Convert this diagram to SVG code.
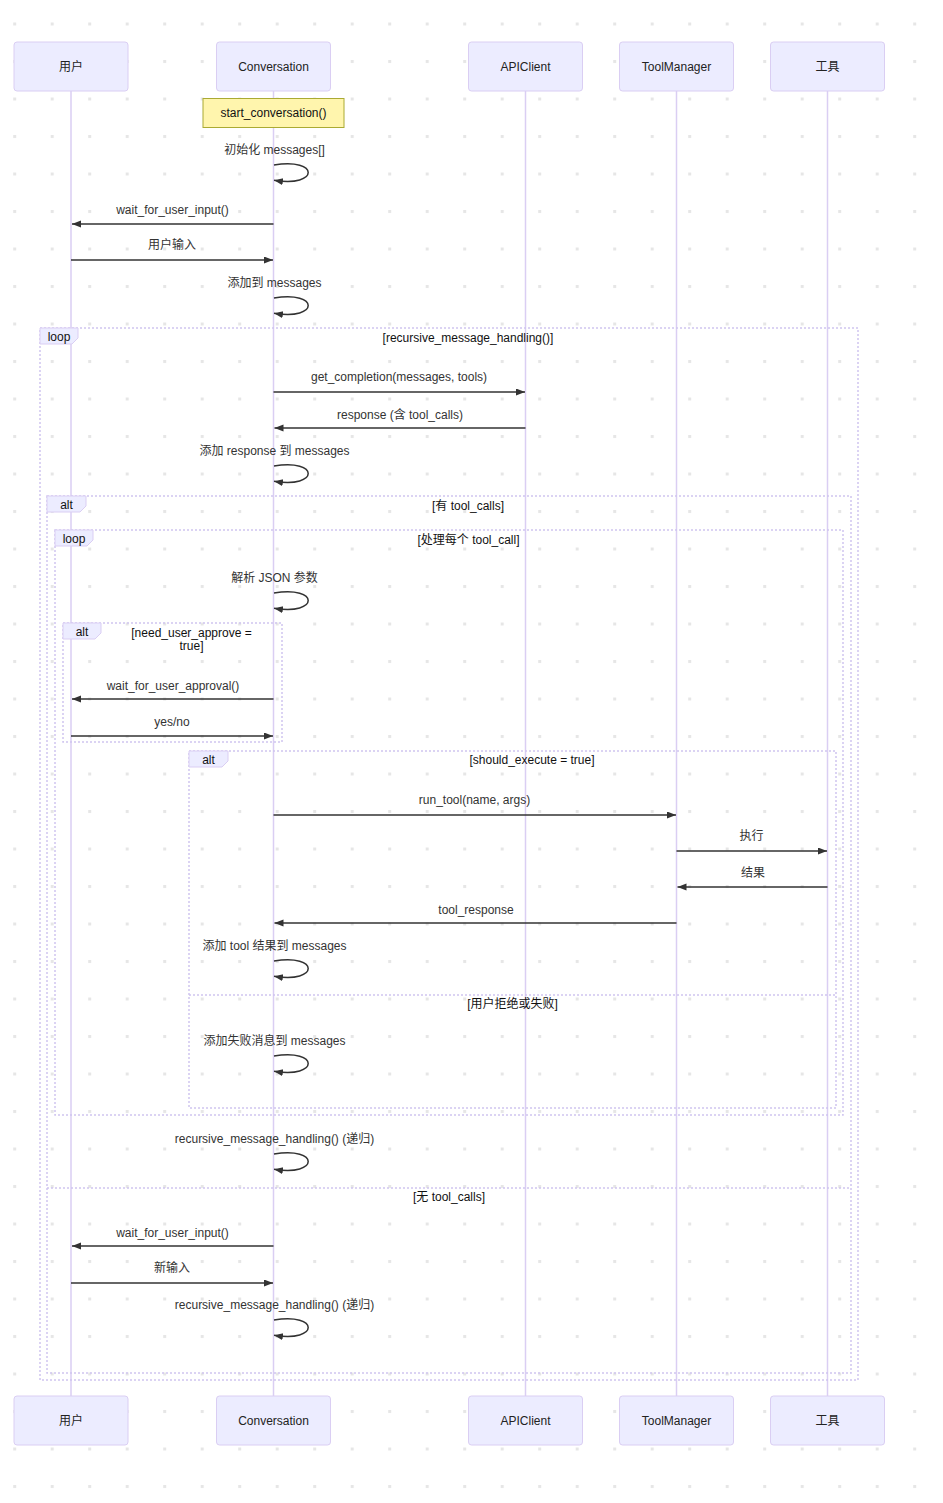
<svg xmlns="http://www.w3.org/2000/svg" width="943" height="1503" viewBox="0 0 943 1503">
<style>
.actor{fill:#ECECFF;stroke:#DACEF3;stroke-width:1}
.atext{font-family:"Liberation Sans","Noto Sans CJK SC",sans-serif;font-size:12px;fill:#222;text-anchor:middle;dominant-baseline:central}
.life{stroke:#DACEF3;stroke-width:1.5}
.msg{stroke:#333;stroke-width:1.5;fill:none}
.mtext{font-family:"Liberation Sans","Noto Sans CJK SC",sans-serif;font-size:12px;fill:#333;text-anchor:middle;dominant-baseline:central}
.frame{fill:none;stroke:#CFC5F0;stroke-width:1.5;stroke-dasharray:2,2}
.lbox{fill:#ECECFF;stroke:#DACEF3;stroke-width:1}
.ltext{font-family:"Liberation Sans","Noto Sans CJK SC",sans-serif;font-size:12px;fill:#111;text-anchor:middle;dominant-baseline:central}
</style>
<defs>
<pattern id="dots" x="13.2" y="22.5" width="37.5" height="37.5" patternUnits="userSpaceOnUse">
<rect x="0" y="0" width="3" height="3" fill="#e6e6e6"/>
</pattern>
<marker id="arr" markerUnits="userSpaceOnUse" markerWidth="10" markerHeight="8" refX="9" refY="3.5" orient="auto">
<path d="M0,0 L9,3.5 L0,7 z" fill="#333"/>
</marker>
</defs>
<rect x="0" y="0" width="943" height="1503" fill="#fff"/>
<rect x="0" y="0" width="943" height="1503" fill="url(#dots)"/>

<g id="lifelines">
<line class="life" x1="71" y1="91" x2="71" y2="1396"/>
<line class="life" x1="273.5" y1="91" x2="273.5" y2="1396"/>
<line class="life" x1="525.5" y1="91" x2="525.5" y2="1396"/>
<line class="life" x1="676.5" y1="91" x2="676.5" y2="1396"/>
<line class="life" x1="827.5" y1="91" x2="827.5" y2="1396"/>
</g>

<g id="actor-user">
<rect class="actor" x="14" y="42" width="114" height="49" rx="3"/>
<text class="atext" x="71" y="66.5">用户</text>
<rect class="actor" x="14" y="1396" width="114" height="49" rx="3"/>
<text class="atext" x="71" y="1420.5">用户</text>
</g>
<g id="actor-conversation">
<rect class="actor" x="216.5" y="42" width="114" height="49" rx="3"/>
<text class="atext" x="273.5" y="66.5">Conversation</text>
<rect class="actor" x="216.5" y="1396" width="114" height="49" rx="3"/>
<text class="atext" x="273.5" y="1420.5">Conversation</text>
</g>
<g id="actor-apiclient">
<rect class="actor" x="468.5" y="42" width="114" height="49" rx="3"/>
<text class="atext" x="525.5" y="66.5">APIClient</text>
<rect class="actor" x="468.5" y="1396" width="114" height="49" rx="3"/>
<text class="atext" x="525.5" y="1420.5">APIClient</text>
</g>
<g id="actor-toolmanager">
<rect class="actor" x="619.5" y="42" width="114" height="49" rx="3"/>
<text class="atext" x="676.5" y="66.5">ToolManager</text>
<rect class="actor" x="619.5" y="1396" width="114" height="49" rx="3"/>
<text class="atext" x="676.5" y="1420.5">ToolManager</text>
</g>
<g id="actor-tool">
<rect class="actor" x="770.5" y="42" width="114" height="49" rx="3"/>
<text class="atext" x="827.5" y="66.5">工具</text>
<rect class="actor" x="770.5" y="1396" width="114" height="49" rx="3"/>
<text class="atext" x="827.5" y="1420.5">工具</text>
</g>

<g id="note-start">
<rect x="203" y="98.5" width="141" height="29" fill="#fff5ad" stroke="#aaaa33" stroke-width="1"/>
<text class="atext" x="273.5" y="113" style="fill:#111">start_conversation()</text>
</g>

<g id="frames">
<rect class="frame" x="40" y="328" width="818" height="1052"/>
<polygon class="lbox" points="40,328 78,328 78,338 72,344 40,344"/>
<text class="ltext" x="59" y="336.5">loop</text>
<text class="ltext" x="468" y="338">[recursive_message_handling()]</text>

<rect class="frame" x="47" y="496" width="804" height="877"/>
<polygon class="lbox" points="47,496 86,496 86,506 80,512 47,512"/>
<text class="ltext" x="66.5" y="504.5">alt</text>
<text class="ltext" x="468" y="506">[有 tool_calls]</text>
<line class="frame" x1="47" y1="1188" x2="851" y2="1188"/>
<text class="ltext" x="449" y="1197">[无 tool_calls]</text>

<rect class="frame" x="55" y="530" width="788" height="585"/>
<polygon class="lbox" points="55,530 93,530 93,540 87,546 55,546"/>
<text class="ltext" x="74" y="538.5">loop</text>
<text class="ltext" x="468.5" y="540">[处理每个 tool_call]</text>

<rect class="frame" x="63" y="623" width="219" height="119"/>
<polygon class="lbox" points="63,623 101,623 101,633 95,639 63,639"/>
<text class="ltext" x="82" y="631.5">alt</text>
<text class="ltext" x="191.5" y="633">[need_user_approve =</text>
<text class="ltext" x="191.5" y="646">true]</text>

<rect class="frame" x="189" y="751" width="647" height="357"/>
<polygon class="lbox" points="189,751 228,751 228,761 222,767 189,767"/>
<text class="ltext" x="208.5" y="759.5">alt</text>
<text class="ltext" x="532" y="760">[should_execute = true]</text>
<line class="frame" x1="189" y1="995" x2="836" y2="995"/>
<text class="ltext" x="512.5" y="1004">[用户拒绝或失败]</text>
</g>

<g id="connectors">
<text class="mtext" x="274.5" y="150">初始化 messages[]</text>
<path class="msg" d="M274,165 C319.6,157.4 319.6,187.8 274,180.2" marker-end="url(#arr)"/>

<text class="mtext" x="172.5" y="210">wait_for_user_input()</text>
<line class="msg" x1="273.5" y1="224" x2="72" y2="224" marker-end="url(#arr)"/>

<text class="mtext" x="172" y="245">用户输入</text>
<line class="msg" x1="71" y1="260" x2="273" y2="260" marker-end="url(#arr)"/>

<text class="mtext" x="274.5" y="283">添加到 messages</text>
<path class="msg" d="M274,298 C319.6,290.4 319.6,320.8 274,313.2" marker-end="url(#arr)"/>

<text class="mtext" x="399" y="377">get_completion(messages, tools)</text>
<line class="msg" x1="273.5" y1="392" x2="525" y2="392" marker-end="url(#arr)"/>

<text class="mtext" x="400" y="415">response (含 tool_calls)</text>
<line class="msg" x1="525.5" y1="428" x2="274.5" y2="428" marker-end="url(#arr)"/>

<text class="mtext" x="274.5" y="451">添加 response 到 messages</text>
<path class="msg" d="M274,466 C319.6,458.4 319.6,488.8 274,481.2" marker-end="url(#arr)"/>

<text class="mtext" x="274.5" y="578">解析 JSON 参数</text>
<path class="msg" d="M274,593 C319.6,585.4 319.6,615.8 274,608.2" marker-end="url(#arr)"/>

<text class="mtext" x="173" y="686">wait_for_user_approval()</text>
<line class="msg" x1="273.5" y1="699" x2="72" y2="699" marker-end="url(#arr)"/>

<text class="mtext" x="172" y="722">yes/no</text>
<line class="msg" x1="71" y1="736" x2="273" y2="736" marker-end="url(#arr)"/>

<text class="mtext" x="474.5" y="800">run_tool(name, args)</text>
<line class="msg" x1="273.5" y1="815" x2="676" y2="815" marker-end="url(#arr)"/>

<text class="mtext" x="751.5" y="836">执行</text>
<line class="msg" x1="676.5" y1="851" x2="827" y2="851" marker-end="url(#arr)"/>

<text class="mtext" x="753" y="873">结果</text>
<line class="msg" x1="827.5" y1="887" x2="677.5" y2="887" marker-end="url(#arr)"/>

<text class="mtext" x="476" y="910">tool_response</text>
<line class="msg" x1="676.5" y1="923" x2="274.5" y2="923" marker-end="url(#arr)"/>

<text class="mtext" x="274.5" y="946">添加 tool 结果到 messages</text>
<path class="msg" d="M274,961 C319.6,953.4 319.6,983.8 274,976.2" marker-end="url(#arr)"/>

<text class="mtext" x="274.5" y="1041">添加失败消息到 messages</text>
<path class="msg" d="M274,1056 C319.6,1048.4 319.6,1078.8 274,1071.2" marker-end="url(#arr)"/>

<text class="mtext" x="274.5" y="1139">recursive_message_handling() (递归)</text>
<path class="msg" d="M274,1154 C319.6,1146.4 319.6,1176.8 274,1169.2" marker-end="url(#arr)"/>

<text class="mtext" x="172.5" y="1233">wait_for_user_input()</text>
<line class="msg" x1="273.5" y1="1246" x2="72" y2="1246" marker-end="url(#arr)"/>

<text class="mtext" x="172" y="1268">新输入</text>
<line class="msg" x1="71" y1="1283" x2="273" y2="1283" marker-end="url(#arr)"/>

<text class="mtext" x="274.5" y="1305">recursive_message_handling() (递归)</text>
<path class="msg" d="M274,1320 C319.6,1312.4 319.6,1342.8 274,1335.2" marker-end="url(#arr)"/>
</g>
</svg>
